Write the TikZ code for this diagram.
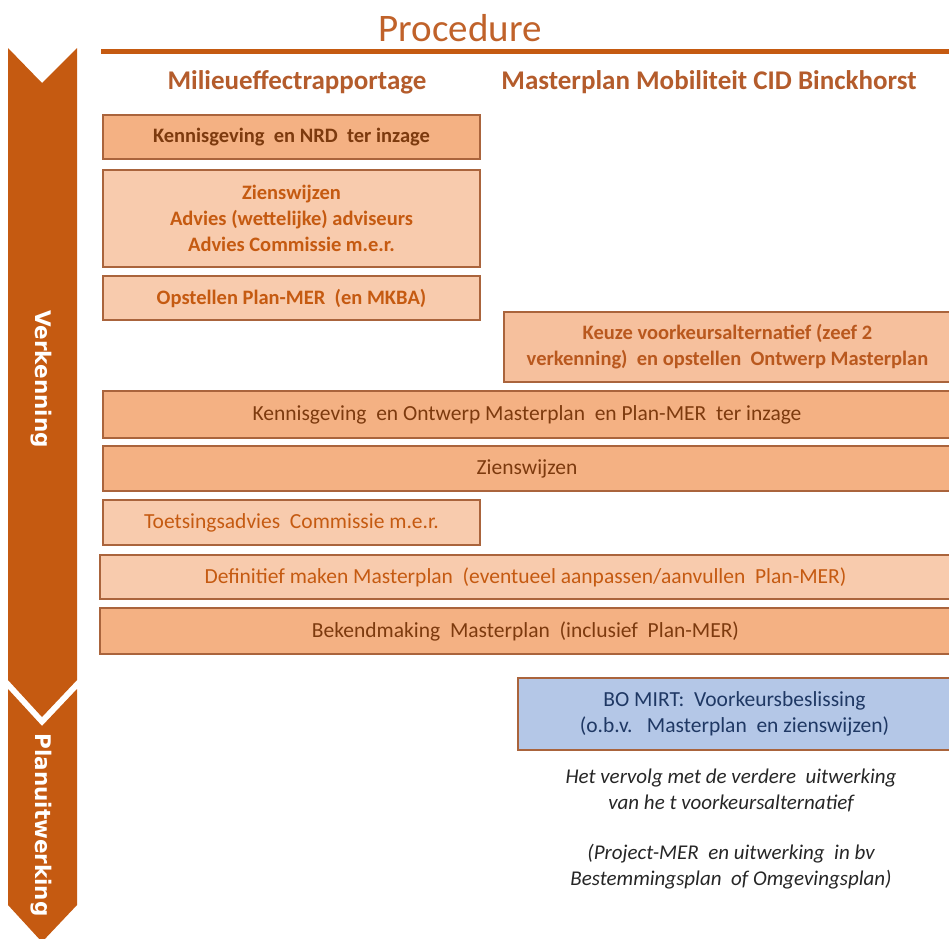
\documentclass[tikz,border=0pt]{standalone}
\usepackage{fontspec}
\setmainfont{Carlito}
\newfontfamily\arrowfont{DejaVu Sans}
\definecolor{arrowc}{RGB}{197,90,17}
\definecolor{titlec}{RGB}{192,98,42}
\definecolor{headc}{RGB}{180,92,44}
\definecolor{darkfill}{RGB}{244,177,131}
\definecolor{lightfill}{RGB}{248,203,173}
\definecolor{midfill}{RGB}{246,192,157}
\definecolor{bordc}{RGB}{170,100,60}
\definecolor{darktext}{RGB}{125,58,14}
\definecolor{lighttext}{RGB}{197,90,17}
\definecolor{midtext}{RGB}{185,88,30}
\definecolor{bluefill}{RGB}{180,199,231}
\definecolor{bluetext}{RGB}{31,56,100}
\definecolor{italc}{RGB}{38,38,38}
\tikzset{
  bx/.style={draw=bordc, line width=1.3pt, inner sep=0pt, align=center, anchor=center},
  darkbox/.style={bx, fill=darkfill, text=darktext},
  lightbox/.style={bx, fill=lightfill, text=lighttext},
  midbox/.style={bx, fill=midfill, text=midtext},
  bluebox/.style={bx, fill=bluefill, text=bluetext},
  upfont/.style={font=\fontsize{20.5}{26}\selectfont\bfseries},
  lowfont/.style={font=\fontsize{21.5}{26}\selectfont},
  phase/.style={text=white, font=\arrowfont\fontsize{21.5}{24}\selectfont\bfseries, rotate=-90},
  header/.style={text=headc, font=\fontsize{27}{30}\selectfont\bfseries},
  note/.style={text=italc, align=center, font=\fontsize{21}{26}\selectfont\itshape},
}
\begin{document}
\begin{tikzpicture}[x=1pt,y=-1pt]
\useasboundingbox (0,0) rectangle (949,938);
% phase arrows
\fill[arrowc] (8,48) -- (42,83) -- (77,48) -- (77,680) -- (42,717) -- (8,680) -- cycle;
\fill[arrowc] (8,689) -- (42,726) -- (77,689) -- (77,905) -- (42,942) -- (8,905) -- cycle;
\node[phase] (verk) at (41,379) {Verkenning};
\node[phase] (plan) at (41,825) {Planuitwerking};
% title
\node[text=titlec, font=\fontsize{39}{44}\selectfont] (title) at (460,28) {Procedure};
\fill[arrowc] (101,49) rectangle (949,54);
\node[header] (h1) at (297,82) {Milieueffectrapportage};
\node[header] (h2) at (709,82) {Masterplan Mobiliteit CID Binckhorst};
% boxes
\node[darkbox, upfont, minimum width=377, minimum height=44] (b1) at (291.5,137) {Kennisgeving\ \ en NRD\ \ ter inzage};
\node[lightbox, upfont, minimum width=377, minimum height=97] (b2) at (291.5,218.5) {Zienswijzen\\Advies (wettelijke) adviseurs\\Advies Commissie m.e.r.};
\node[lightbox, upfont, minimum width=377, minimum height=44] (b3) at (291.5,298) {Opstellen Plan-MER\ \ (en MKBA)};
\node[midbox, upfont, minimum width=447, minimum height=70] (b4) at (727.5,347) {Keuze voorkeursalternatief (zeef 2\\verkenning)\ \ en opstellen\ \ Ontwerp Masterplan};
\node[darkbox, lowfont, minimum width=848, minimum height=47] (b5) at (527,414.5) {Kennisgeving\ \ en Ontwerp Masterplan\ \ en Plan-MER\ \ ter inzage};
\node[darkbox, lowfont, minimum width=848, minimum height=45] (b6) at (527,468.5) {Zienswijzen};
\node[lightbox, lowfont, minimum width=377, minimum height=45] (b7) at (291.5,522.5) {Toetsingsadvies\ \ Commissie m.e.r.};
\node[lightbox, lowfont, minimum width=851, minimum height=44] (b8) at (525.5,577) {Definitief maken Masterplan\ \ (eventueel aanpassen/aanvullen\ \ Plan-MER)};
\node[darkbox, lowfont, minimum width=851, minimum height=46] (b9) at (525.5,631) {Bekendmaking\ \ Masterplan\ \ (inclusief\ \ Plan-MER)};
\node[bluebox, lowfont, minimum width=433, minimum height=72] (b10) at (734.5,714) {BO MIRT:\ \ Voorkeursbeslissing\\(o.b.v.\ \ \ Masterplan\ \ en zienswijzen)};
% italic notes
\node[note] (n1) at (731,790) {Het vervolg met de verdere\ \ uitwerking\\van he t voorkeursalternatief};
\node[note] (n2) at (731,867) {(Project-MER\ \ en uitwerking\ \ in bv\\Bestemmingsplan\ \ of Omgevingsplan)};
\end{tikzpicture}
\end{document}
